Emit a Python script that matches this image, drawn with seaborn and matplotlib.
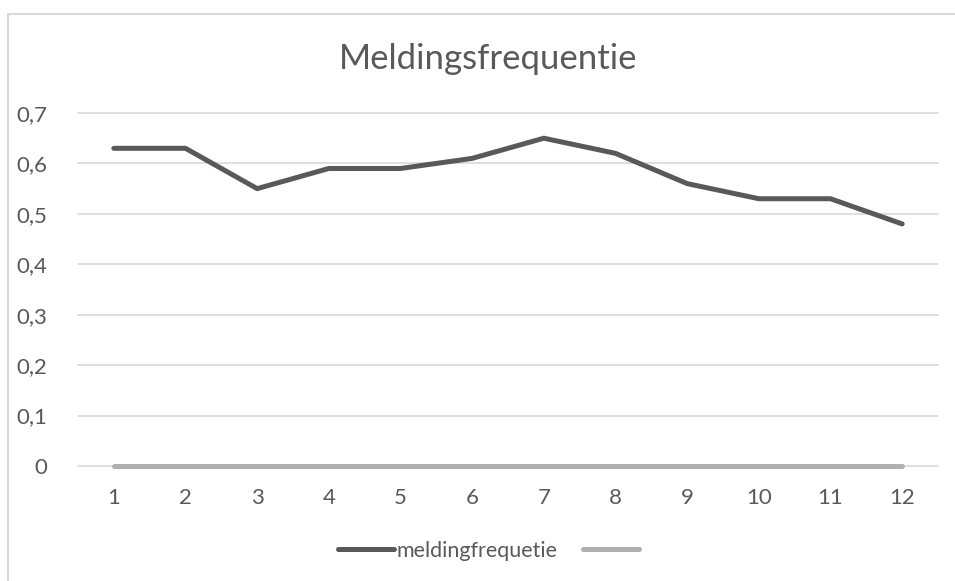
import pandas as pd
import matplotlib
matplotlib.use("Agg")
from matplotlib import pyplot as plt
from matplotlib.lines import Line2D
import seaborn as sns

maanden = [1, 2, 3, 4, 5, 6, 7, 8, 9, 10, 11, 12]
meldingfrequetie = [0.63, 0.63, 0.55, 0.59, 0.59, 0.61, 0.65, 0.62, 0.56, 0.53, 0.53, 0.48]
reeks2 = [0, 0, 0, 0, 0, 0, 0, 0, 0, 0, 0, 0]
yticks = [0, 0.1, 0.2, 0.3, 0.4, 0.5, 0.6, 0.7]
ytick_labels = ["0", "0,1", "0,2", "0,3", "0,4", "0,5", "0,6", "0,7"]

sns.set_style("white")
plt.rcParams['font.family'] = ['Lato', 'DejaVu Sans']

dark = "#595959"
light = "#b0b0b0"
grid = "#d9d9d9"

df = pd.DataFrame({"maand": maanden, "meldingfrequetie": meldingfrequetie, "reeks2": reeks2})

fig = plt.figure(figsize=(9.55, 5.81), dpi=100)
ax = fig.add_axes([78/955, 1-466/581, (938-78)/955, (466-113)/581])

for y in yticks:
    ax.axhline(y, color=grid, lw=1.2, zorder=0)

sns.lineplot(data=df, x="maand", y="reeks2", color=light, lw=3.6, ax=ax, zorder=2)
sns.lineplot(data=df, x="maand", y="meldingfrequetie", color=dark, lw=3.6, ax=ax, zorder=3)
for l in ax.lines:
    l.set_solid_capstyle("round")
    l.set_solid_joinstyle("round")
    l.set_clip_on(False)

ax.set_xlim(0.5, 12.5)
ax.set_ylim(0, 0.7)
ax.set_xticks(maanden)
ax.set_xticklabels([str(m) for m in maanden])
ax.set_yticks(yticks)
ax.set_yticklabels(ytick_labels)
ax.tick_params(axis="both", length=0, labelsize=16, labelcolor=dark)
ax.tick_params(axis="x", pad=16)
ax.tick_params(axis="y", pad=22)
ax.set_xlabel("")
ax.set_ylabel("")
for s in ax.spines.values():
    s.set_visible(False)

fig.text(488/955, 1-59/581, "Meldingsfrequentie", ha="center", va="center",
         fontsize=25, color=dark)

handles = [Line2D([], [], color=dark, lw=3.6, solid_capstyle="round"),
           Line2D([], [], color=light, lw=3.6, solid_capstyle="round")]
fig.legend(handles, ["meldingfrequetie", ""], loc="center", ncol=2,
           bbox_to_anchor=(490/955, 1-551/581), frameon=False, fontsize=15.5,
           labelcolor=dark, handlelength=2.6, handletextpad=0.1, columnspacing=1.2)

# chart border: only left and top edges are visible in the crop
fig.add_artist(Line2D([8/955, 8/955], [0, 1-14/581], transform=fig.transFigure, color=grid, lw=1.5))
fig.add_artist(Line2D([8/955, 1], [1-14/581, 1-14/581], transform=fig.transFigure, color=grid, lw=1.5))

plt.savefig("out.png", dpi=100)
